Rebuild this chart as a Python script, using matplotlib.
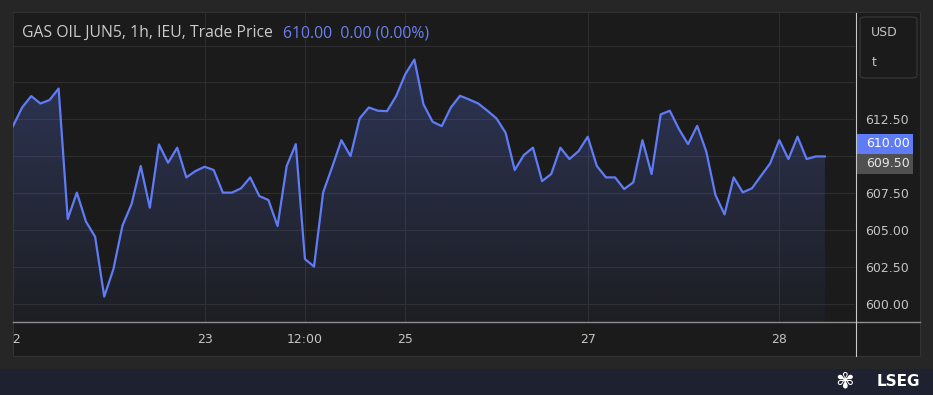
import numpy as np
import matplotlib.pyplot as plt
from matplotlib.colors import to_rgb
from matplotlib.lines import Line2D
from matplotlib.patches import Rectangle, FancyBboxPatch
from matplotlib.transforms import Bbox, TransformedBbox, blended_transform_factory

W, H = 933, 395

# hourly trade prices, GAS OIL JUN5
prices = [612.05, 613.31, 614.08, 613.58, 613.81, 614.59, 605.77, 607.55, 605.59, 604.57,
          600.52, 602.36, 605.32, 606.78, 609.35, 606.53, 610.81, 609.57, 610.59, 608.58,
          609.01, 609.30, 609.08, 607.55, 607.55, 607.84, 608.58, 607.32, 607.05, 605.29,
          609.35, 610.83, 603.06, 602.55, 607.57, 609.30, 611.10, 610.02, 612.57, 613.31,
          613.09, 613.06, 614.08, 615.56, 616.55, 613.52, 612.34, 612.05, 613.31, 614.10,
          613.85, 613.58, 613.09, 612.57, 611.60, 609.08, 610.09, 610.59, 608.33, 608.81,
          610.59, 609.82, 610.36, 611.33, 609.35, 608.58, 608.58, 607.79, 608.25, 611.10,
          608.81, 612.84, 613.09, 611.85, 610.83, 612.07, 610.32, 607.39, 606.08, 608.58,
          607.57, 607.84, 608.69, 609.53, 611.10, 609.82, 611.33, 609.82, 610.00, 610.00]

tick_pos = [0, 21, 32, 43, 63, 84]
tick_labels = ['22', '23', '12:00', '25', '27', '28']
y_grid = [600.0, 602.5, 605.0, 607.5, 610.0, 612.5, 615.0, 617.5]
y_labeled = [600.0, 602.5, 605.0, 607.5, 612.5]
last_price = 610.00
ref_price = 609.50
title = 'GAS OIL JUN5, 1h, IEU, Trade Price'
quote = '610.00  0.00 (0.00%)'

LINE = '#5f7cf6'
BG = '#1b1b1b'
OUTER = '#262626'
GRID = '#2e2e2e'
TXT = '#c4c4c4'


def fx(px):
    return px / W


def fy(py):
    return 1 - py / H


fig = plt.figure(figsize=(W / 100, H / 100), dpi=100, facecolor=OUTER)

# chart panel and bottom band
fig.patches.append(Rectangle((fx(12.5), fy(356)), fx(920) - fx(12.5), fy(12.5) - fy(356),
                             transform=fig.transFigure, facecolor=BG, edgecolor='#333333',
                             lw=0.8, zorder=-2))
fig.patches.append(Rectangle((0, 0), 1, fy(369), transform=fig.transFigure,
                             facecolor='#1e2230', edgecolor='none', zorder=-2))

ax = fig.add_axes([fx(13), fy(322), fx(855) - fx(13), fy(13) - fy(322)])
ax.set_facecolor(BG)
for s in ax.spines.values():
    s.set_visible(False)

x = np.arange(len(prices))
ylo, yhi = 598.8, 619.7

# gradient area under the line
fill = ax.fill_between(x, prices, ylo, color='none', lw=0)
rgba = np.zeros((256, 1, 4))
rgba[..., :3] = to_rgb(LINE)
rgba[..., 3] = np.linspace(0.04, 0.27, 256)[:, None]
img = ax.imshow(rgba, extent=[x[0], x[-1], ylo, max(prices)], origin='lower',
                aspect='auto', zorder=1, interpolation='bilinear')
img.set_clip_path(fill.get_paths()[0], ax.transData)

for v in y_grid:
    ax.axhline(v, color=GRID, lw=0.75, zorder=0.5)
for t in tick_pos:
    ax.axvline(t, color=GRID, lw=0.75, zorder=0.5)

ax.plot(x, prices, color=LINE, lw=1.6, zorder=3, solid_joinstyle='round')

ax.set_xlim(0, 92.3)
ax.set_ylim(ylo, yhi)

ax.set_xticks(tick_pos, tick_labels)
ax.tick_params(axis='x', length=0, pad=8, colors=TXT, labelsize=9)
clip = TransformedBbox(Bbox([[fx(13), 0], [fx(920), 1]]), fig.transFigure)
for lab in ax.get_xticklabels():
    lab.set_clip_box(clip)
    lab.set_clip_on(True)

ax.yaxis.tick_right()
ax.set_yticks(y_labeled, [f'{v:.2f}' for v in y_labeled])
ax.tick_params(axis='y', length=0, pad=7.5, colors=TXT, labelsize=9)

# axis lines
fig.add_artist(Line2D([fx(13), fx(920)], [fy(322), fy(322)], color='#8f8f8f', lw=1.0))
fig.add_artist(Line2D([fx(855.5), fx(855.5)], [fy(13), fy(356)], color='#c8c8c8', lw=0.8))

# price boxes on the scale
tr = blended_transform_factory(ax.transAxes, ax.transData)
bx0 = (856 - 13) / 842
bw = 57 / 842
bh = 20 / 14.8
ax.add_patch(Rectangle((bx0, ref_price - bh / 2), bw, bh, transform=tr,
                       facecolor='#505050', edgecolor='none', clip_on=False, zorder=5))
ax.text(bx0 + 10 / 842, ref_price, f'{ref_price:.2f}', transform=tr, va='center', ha='left',
        color='#e6e6e6', fontsize=9, clip_on=False, zorder=6)
ax.add_patch(Rectangle((bx0, ref_price + bh / 2), bw, bh, transform=tr,
                       facecolor='#5f7cf6', edgecolor='none', clip_on=False, zorder=5))
ax.text(bx0 + 10 / 842, ref_price + bh, f'{last_price:.2f}', transform=tr, va='center',
        ha='left', color='white', fontsize=9, clip_on=False, zorder=6)

# currency / unit box
fig.patches.append(FancyBboxPatch((fx(860), fy(78)), fx(917) - fx(860), fy(17) - fy(78),
                                  boxstyle='round,pad=0,rounding_size=0.006',
                                  transform=fig.transFigure, facecolor=BG,
                                  edgecolor='#3a3a3a', lw=0.8, zorder=2))
fig.text(fx(871), fy(32), 'USD', color=TXT, fontsize=9, va='center', ha='left', zorder=3)
fig.text(fx(872), fy(63), 't', color=TXT, fontsize=9, va='center', ha='left', zorder=3)

# legend line
t1 = fig.text(fx(22), fy(33), title, color='#cacaca', fontsize=11.3, family='Open Sans',
              va='center', ha='left', zorder=4)
ax.annotate(quote, xy=(1, 0.5), xycoords=t1, xytext=(7, 0), textcoords='offset points',
            color='#6b80f0', fontsize=11.3, family='Open Sans', va='center', ha='left',
            annotation_clip=False)

# footer brand
fig.text(fx(845), fy(381), '\u273e', color='white', fontsize=16, va='center', ha='center')
fig.text(fx(920), fy(381), 'LSEG', color='white', fontsize=11, fontweight='bold',
         va='center', ha='right')

fig.savefig('out.png', dpi=100, facecolor=OUTER)
